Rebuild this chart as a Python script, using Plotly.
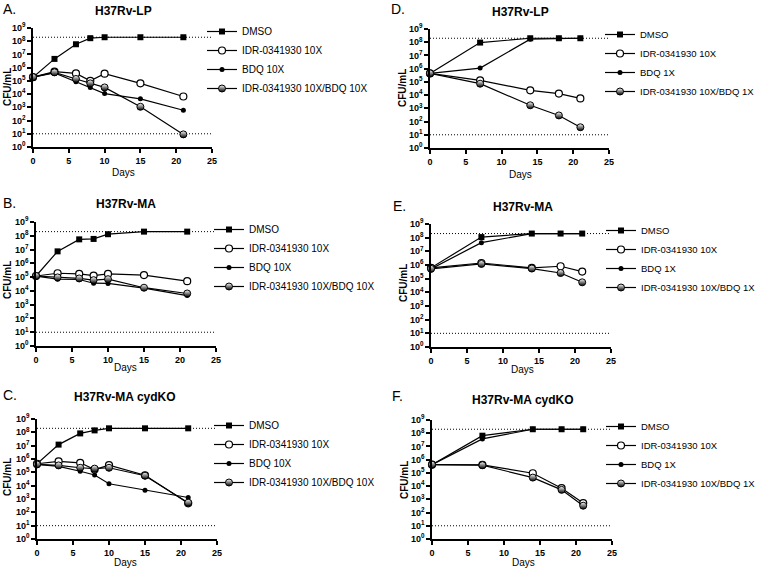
import plotly.graph_objects as go

W, H = 760, 570

# ---------------- data ----------------
DAYS_LEFT = [0, 3, 6, 8, 10, 15, 21]
DAYS_RIGHT = [0, 7, 14, 18, 21]

NAMES_LEFT = ["DMSO", "IDR-0341930 10X", "BDQ 10X", "IDR-0341930 10X/BDQ 10X"]
NAMES_RIGHT = ["DMSO", "IDR-0341930 10X", "BDQ 1X", "IDR-0341930 10X/BDQ 1X"]

# Panel A  H37Rv-LP (10X)
A_DMSO = [1.9e5, 4.6e6, 5.9e7, 1.7e8, 2e8, 2e8, 2e8]
A_IDR = [1.9e5, 5.0e5, 3.7e5, 1.0e5, 3.5e5, 6.5e4, 6.6e3]
A_BDQ = [1.9e5, 4.0e5, 8.7e4, 3.2e4, 1.1e4, 4.4e3, 6.0e2]
A_COMBO = [1.9e5, 4.4e5, 1.4e5, 6.5e4, 3.2e4, 1.1e3, 9.0]

# Panel B  H37Rv-MA (10X)
B_DMSO = [1.2e5, 7.4e6, 5.5e7, 5.9e7, 1.3e8, 2e8, 2e8]
B_IDR = [1.2e5, 1.9e5, 1.7e5, 1.3e5, 1.7e5, 1.4e5, 5.1e4]
B_BDQ = [1.2e5, 7.1e4, 6.7e4, 3.6e4, 3.5e4, 1.6e4, 4.6e3]
B_COMBO = [1.2e5, 9.5e4, 8.0e4, 6.0e4, 7.1e4, 1.7e4, 6.5e3]

# Panel C  H37Rv-MA cydKO (10X)
C_DMSO = [4.4e5, 1.2e7, 8.3e7, 1.4e8, 2e8, 2e8, 2e8]
C_IDR = [4.4e5, 6.6e5, 5.2e5, 1.6e5, 3.5e5, 6.0e4, 4.7e2]
C_BDQ = [3.9e5, 2.8e5, 1.2e5, 6.3e4, 1.4e4, 4.6e3, 1.3e3]
C_COMBO = [3.9e5, 3.3e5, 2.2e5, 1.9e5, 2.2e5, 5.6e4, 5.3e2]

# Panel D  H37Rv-LP (1X)
D_DMSO = [4.4e5, 9.4e7, 2e8, 2e8, 2e8]
D_IDR = [4.4e5, 1.3e5, 2.3e4, 1.3e4, 5.6e3]
D_BDQ = [4.4e5, 1.1e6, 1.7e8, 2e8, 2e8]
D_COMBO = [4.4e5, 7.3e4, 1.7e3, 2.9e2, 37]

# Panel E  H37Rv-MA (1X)
E_DMSO = [6.2e5, 1.1e8, 2e8, 2e8, 2e8]
E_IDR = [6.2e5, 1.4e6, 6.2e5, 8.1e5, 3.3e5]
E_BDQ = [5.2e5, 4.3e7, 2e8, 2e8, 2e8]
E_COMBO = [5.2e5, 1.2e6, 5.5e5, 2.6e5, 5.4e4]

# Panel F  H37Rv-MA cydKO (1X)
F_DMSO = [4.2e5, 6.5e7, 2e8, 2e8, 2e8]
F_IDR = [4.2e5, 4.0e5, 9.4e4, 7.0e3, 5.2e2]
F_BDQ = [4.2e5, 3.7e7, 2e8, 2e8, 2e8]
F_COMBO = [4.2e5, 3.8e5, 4.4e4, 5.2e3, 3.3e2]

REF_X = [0, 25]
REF_LEVELS = [2e8, 1e1]

X_TICKS = [0, 5, 10, 15, 20, 25]
Y_TICKS = [1e0, 1e1, 1e2, 1e3, 1e4, 1e5, 1e6, 1e7, 1e8, 1e9]
Y_TICKTEXT = ["10<sup>%d</sup>" % k for k in range(10)]

LETTERS = ["A.", "D.", "B.", "E.", "C.", "F."]
TITLES = ["H37Rv-LP", "H37Rv-LP", "H37Rv-MA", "H37Rv-MA", "H37Rv-MA cydKO", "H37Rv-MA cydKO"]

# ---------------- layout helpers (pixels) ----------------
def px_x(v):
    return v / W

def px_y(v):
    return 1 - v / H

FONT = "Liberation Sans, Arial, sans-serif"

panels = [
    dict(days=DAYS_LEFT, s=[A_DMSO, A_IDR, A_BDQ, A_COMBO], names=NAMES_LEFT, lfs=10,
         box=(33, 212, 28, 147), leg=(202, 17), letter=(1, 9), title=(123, 11), dlab=(123, 172), clab=(7, 87)),
    dict(days=DAYS_RIGHT, s=[D_DMSO, D_IDR, D_BDQ, D_COMBO], names=NAMES_RIGHT, lfs=9.5,
         box=(430, 609, 29, 148), leg=(600, 20), letter=(389, 9), title=(520, 12), dlab=(520, 174), clab=(402, 88)),
    dict(days=DAYS_LEFT, s=[B_DMSO, B_IDR, B_BDQ, B_COMBO], names=NAMES_LEFT, lfs=10,
         box=(36, 216, 222, 346), leg=(209, 215), letter=(1, 203), title=(126, 204), dlab=(126, 367), clab=(7, 280)),
    dict(days=DAYS_RIGHT, s=[E_DMSO, E_IDR, E_BDQ, E_COMBO], names=NAMES_RIGHT, lfs=9.5,
         box=(431, 611, 224, 347), leg=(601, 216), letter=(391, 206), title=(523, 207), dlab=(522, 369), clab=(403, 283)),
    dict(days=DAYS_LEFT, s=[C_DMSO, C_IDR, C_BDQ, C_COMBO], names=NAMES_LEFT, lfs=10,
         box=(37, 217, 419, 539), leg=(209, 411), letter=(1, 395), title=(125, 397), dlab=(126, 562), clab=(7, 477)),
    dict(days=DAYS_RIGHT, s=[F_DMSO, F_IDR, F_BDQ, F_COMBO], names=NAMES_RIGHT, lfs=9.5,
         box=(432, 612, 420, 539), leg=(601, 412), letter=(390, 396), title=(523, 400), dlab=(523, 562), clab=(404, 480)),
]

MARKERS = [
    dict(symbol="square", size=6, color="black", line=dict(color="black", width=0)),
    dict(symbol="circle", size=7, color="white", line=dict(color="black", width=1.2)),
    dict(symbol="circle", size=5, color="black", line=dict(color="black", width=0)),
    dict(symbol="circle", size=7, color="white", gradient=dict(type="vertical", color="black"),
         line=dict(color="black", width=1)),
]

fig = go.Figure()
annotations = []
layout = dict(
    width=W, height=H, autosize=False,
    margin=dict(l=0, r=0, t=0, b=0, autoexpand=False),
    paper_bgcolor="white", plot_bgcolor="white",
    font=dict(family=FONT, color="black", size=10),
)

for i, p in enumerate(panels):
    k = i + 1
    xa = "x" if k == 1 else "x%d" % k
    ya = "y" if k == 1 else "y%d" % k
    leg = "legend" if k == 1 else "legend%d" % k
    x0, x1, y0, y1 = p["box"]

    for lvl in REF_LEVELS:
        fig.add_trace(go.Scatter(
            x=REF_X, y=[lvl, lvl], mode="lines", xaxis=xa, yaxis=ya,
            line=dict(color="black", width=1, dash="1px,2px"),
            showlegend=False, hoverinfo="skip", cliponaxis=False))

    for j in range(4):
        fig.add_trace(go.Scatter(
            x=p["days"], y=p["s"][j], name=p["names"][j], mode="lines+markers",
            xaxis=xa, yaxis=ya, legend=leg,
            line=dict(color="black", width=1.2),
            marker=MARKERS[j], cliponaxis=False))

    axis_common = dict(showline=True, linecolor="black", linewidth=1.5, showgrid=False,
                       zeroline=False, ticks="outside", ticklen=4, tickwidth=1.5,
                       tickcolor="black", automargin=False, ticklabeloverflow="allow")
    layout["xaxis" if k == 1 else "xaxis%d" % k] = dict(
        domain=[px_x(x0), px_x(x1)], range=[0, 25], anchor=ya,
        tickvals=X_TICKS, ticktext=[str(t) for t in X_TICKS],
        tickfont=dict(family=FONT, size=9, weight="bold"), **axis_common)
    layout["yaxis" if k == 1 else "yaxis%d" % k] = dict(
        domain=[px_y(y1), px_y(y0)], type="log", range=[0, 9], anchor=xa,
        tickvals=Y_TICKS, ticktext=Y_TICKTEXT,
        tickfont=dict(family=FONT, size=9, weight="bold"), **axis_common)
    lx, ly = p["leg"]
    layout[leg] = dict(x=px_x(lx), y=px_y(ly), xanchor="left", yanchor="top",
                       bgcolor="rgba(0,0,0,0)", font=dict(family=FONT, size=p["lfs"]),
                       itemwidth=30, tracegroupgap=0, borderwidth=0)

    annotations.append(dict(text=LETTERS[i], x=px_x(p["letter"][0]), y=px_y(p["letter"][1]),
                            xref="paper", yref="paper", xanchor="left", yanchor="middle",
                            showarrow=False, font=dict(family=FONT, size=14)))
    annotations.append(dict(text=TITLES[i], x=px_x(p["title"][0]), y=px_y(p["title"][1]),
                            xref="paper", yref="paper", xanchor="center", yanchor="middle",
                            showarrow=False, font=dict(family=FONT, size=12, weight="bold")))
    annotations.append(dict(text="Days", x=px_x(p["dlab"][0]), y=px_y(p["dlab"][1]),
                            xref="paper", yref="paper", xanchor="center", yanchor="middle",
                            showarrow=False, font=dict(family=FONT, size=10)))
    annotations.append(dict(text="CFU/mL", x=px_x(p["clab"][0]), y=px_y(p["clab"][1]),
                            xref="paper", yref="paper", xanchor="center", yanchor="middle",
                            textangle=-90, showarrow=False,
                            font=dict(family=FONT, size=10, weight="bold")))

layout["annotations"] = annotations
fig.update_layout(**layout)
fig.write_html("out.html", config={"displayModeBar": False},
               post_script="document.body.style.margin='0px';")
